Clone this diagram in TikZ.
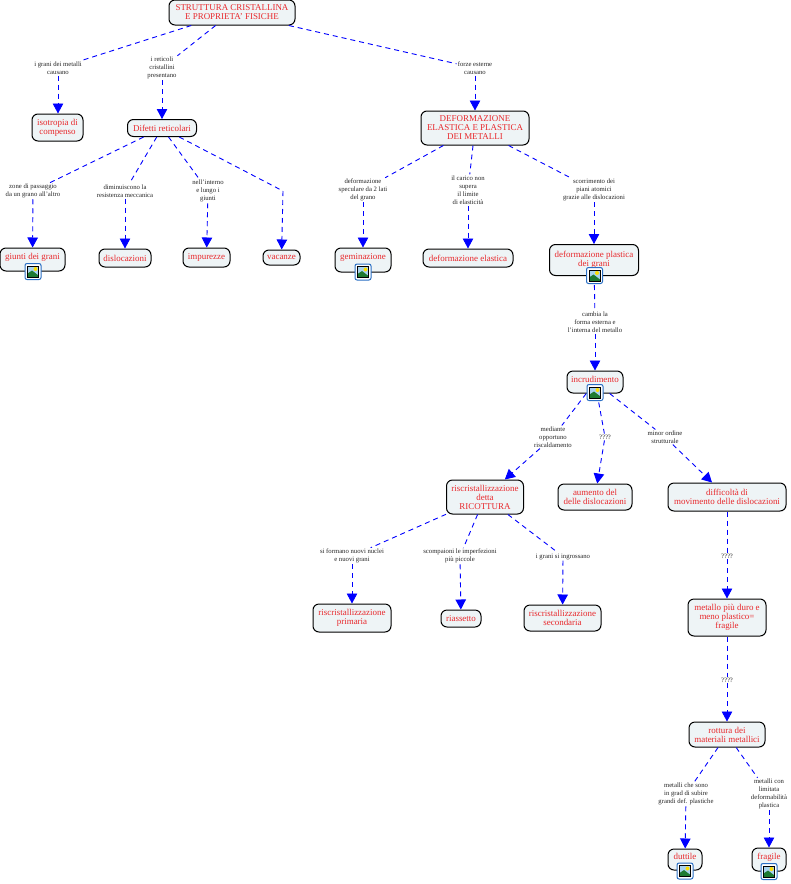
\documentclass[tikz,border=0pt]{standalone}
\usepackage{fontspec}
\setmainfont{Liberation Serif}
\usetikzlibrary{arrows.meta}
\definecolor{boxfill}{HTML}{EEF4F6}
\definecolor{conceptred}{HTML}{E8282C}
\definecolor{iconblue}{HTML}{2A6FC4}
\definecolor{iconsky}{HTML}{A9D3EE}
\definecolor{icongreen}{HTML}{1E7A32}
\begin{document}
\begin{tikzpicture}[x=1pt, y=-1pt, >={Stealth[length=10pt,width=10.5pt,inset=0pt]},
  concept/.style={draw=black, line width=1pt, fill=boxfill, rounded corners=6pt, text=conceptred,
    font=\fontsize{8.95}{9}\selectfont, align=center, inner sep=0pt},
  iconconcept/.style={concept, text depth=6pt},
  linklabel/.style={text=black!85, font=\fontsize{6.7}{8}\selectfont, align=center, inner sep=1pt},
  linkline/.style={draw=blue, line width=0.9pt, dash pattern=on 5pt off 4pt},
  linkarrow/.style={linkline, ->},
  imgicon/.pic={
    \draw[iconblue, line width=1pt, fill=white, rounded corners=2pt] (-8,-8) rectangle (8,8);
    \fill[iconsky] (-5.5,-5.5) rectangle (5.5,5.5);
    \fill[yellow!80!orange] (2.5,-2.5) circle (2);
    \fill[icongreen] (-5.5,5.5) -- (-5.5,2) -- (-1,-1) -- (5.5,4) -- (5.5,5.5) -- cycle;
    \draw[black, line width=0.5pt] (-5.5,-5.5) rectangle (5.5,5.5);
  }]
  \useasboundingbox (0,0) rectangle (791,884);

  \node[concept, minimum width=126, minimum height=25] (struttura) at (232,12.5) {STRUTTURA CRISTALLINA\\E PROPRIETA' FISICHE};
  \node[concept, minimum width=51, minimum height=27] (isotropia) at (57.5,127.5) {isotropia di\\compenso};
  \node[concept, minimum width=69, minimum height=17] (difetti) at (162,128) {Difetti reticolari};
  \node[iconconcept, minimum width=65, minimum height=23] (giunti) at (32.5,259.5) {giunti dei grani};
  \node[concept, minimum width=52, minimum height=18] (dislocazioni) at (125,258) {dislocazioni};
  \node[concept, minimum width=47, minimum height=19] (impurezze) at (206.5,257.5) {impurezze};
  \node[concept, minimum width=37, minimum height=15] (vacanze) at (281.5,257.5) {vacanze};
  \node[concept, minimum width=108, minimum height=34] (deformazione) at (475,128) {DEFORMAZIONE\\ELASTICA E PLASTICA\\DEI METALLI};
  \node[iconconcept, minimum width=56, minimum height=24] (geminazione) at (363,260) {geminazione};
  \node[concept, minimum width=90, minimum height=18] (elastica) at (468,258) {deformazione elastica};
  \node[concept, minimum width=89, minimum height=31] (plastica) at (594,260) {deformazione plastica\\dei grani};
  \node[iconconcept, minimum width=56, minimum height=22] (incrudimento) at (595,382) {incrudimento};
  \node[concept, minimum width=77, minimum height=34] (ricottura) at (485,497) {riscristallizzazione\\detta\\RICOTTURA};
  \node[concept, minimum width=74, minimum height=26] (aumento) at (595,497) {aumento del\\delle dislocazioni};
  \node[concept, minimum width=118, minimum height=28] (difficolta) at (727,497) {difficoltà di\\movimento delle dislocazioni};
  \node[concept, minimum width=78, minimum height=28] (primaria) at (352,618) {riscristallizzazione\\primaria};
  \node[concept, minimum width=40, minimum height=17] (riassetto) at (461,618.5) {riassetto};
  \node[concept, minimum width=77, minimum height=26] (secondaria) at (562.5,618) {riscristallizzazione\\secondaria};
  \node[concept, minimum width=78, minimum height=37] (metallo) at (727,617.5) {metallo più duro e\\meno plastico=\\fragile};
  \node[concept, minimum width=76, minimum height=25] (rottura) at (727,734.5) {rottura dei\\materiali metallici};
  \node[iconconcept, minimum width=34, minimum height=21] (duttile) at (685,859.5) {duttile};
  \node[iconconcept, minimum width=34, minimum height=23] (fragile) at (769,859.5) {fragile};

  \node[linklabel] (grani) at (58,68) {i grani dei metalli\\causano};
  \node[linklabel] (reticoli) at (162,68) {i reticoli\\cristallini\\presentano};
  \node[linklabel] (forze) at (475,68) {forze esterne\\causano};
  \node[linklabel] (zone) at (33,191) {zone di passaggio\\da un grano all'altro};
  \node[linklabel] (diminuiscono) at (125,191) {diminuiscono la\\resistenza meccanica};
  \node[linklabel] (interno) at (208,191) {nell'interno\\e lungo i\\giunti};
  \coordinate (vuoto) at (283,191);
  \node[linklabel] (speculare) at (363,190) {deformazione\\speculare da 2 lati\\del grano};
  \node[linklabel] (carico) at (468,190) {il carico non\\supera\\il limite\\di elasticità};
  \node[linklabel] (scorrimento) at (594,190) {scorrimento dei\\piani atomici\\grazie alle dislocazioni};
  \node[linklabel] (cambia) at (595,322) {cambia la\\forma esterna e\\l'interna del metallo};
  \node[linklabel] (mediante) at (553,437) {mediante\\opportuno\\riscaldamento};
  \node[linklabel] (ignotoa) at (605,437) {????};
  \node[linklabel] (minor) at (665,437) {minor ordine\\strutturale};
  \node[linklabel] (nuclei) at (352,556) {si formano nuovi nuclei\\e nuovi grani};
  \node[linklabel] (scompaiono) at (460,556) {scompaioni le imperfezioni\\più piccole};
  \node[linklabel] (ingrossano) at (563,556.5) {i grani si ingrossano};
  \node[linklabel] (ignotob) at (727,556) {????};
  \node[linklabel] (ignotoc) at (727,680) {????};
  \node[linklabel] (sono) at (686,794) {metalli che sono\\in grad di subire\\grandi def. plastiche};
  \node[linklabel] (limitata) at (769,794) {metalli con\\limitata\\deformabilità\\plastica};

  \draw[linkline] (struttura) -- (grani);
  \draw[linkline] (struttura) -- (reticoli);
  \draw[linkline] (struttura) -- (forze);
  \draw[linkarrow] (grani) -- (grani |- isotropia.north);
  \draw[linkarrow] (reticoli) -- (difetti);
  \draw[linkarrow] (forze) -- (deformazione);

  \draw[linkline] (difetti) -- (zone);
  \draw[linkline] (difetti) -- (diminuiscono);
  \draw[linkline] (difetti) -- (interno);
  \draw[linkline] (difetti) -- (vuoto);
  \draw[linkarrow] (zone) -- (giunti);
  \draw[linkarrow] (diminuiscono) -- (dislocazioni);
  \draw[linkarrow] (interno) -- (impurezze);
  \draw[linkarrow] (vuoto) -- (vacanze);

  \draw[linkline] (deformazione) -- (speculare);
  \draw[linkline] (deformazione) -- (carico);
  \draw[linkline] (deformazione) -- (scorrimento);
  \draw[linkarrow] (speculare) -- (geminazione);
  \draw[linkarrow] (carico) -- (elastica);
  \draw[linkarrow] (scorrimento) -- (plastica);

  \draw[linkline] (plastica) -- (cambia);
  \draw[linkarrow] (cambia) -- (incrudimento);
  \draw[linkline] (incrudimento) -- (mediante);
  \draw[linkline] (incrudimento) -- (ignotoa);
  \draw[linkline] (incrudimento) -- (minor);
  \draw[linkarrow] (mediante) -- (ricottura);
  \draw[linkarrow] (ignotoa) -- (aumento);
  \draw[linkarrow] (minor) -- (difficolta);

  \draw[linkline] (ricottura) -- (nuclei);
  \draw[linkline] (ricottura) -- (scompaiono);
  \draw[linkline] (ricottura) -- (ingrossano);
  \draw[linkarrow] (nuclei) -- (primaria);
  \draw[linkarrow] (scompaiono) -- (riassetto);
  \draw[linkarrow] (ingrossano) -- (secondaria);

  \draw[linkline] (difficolta) -- (ignotob);
  \draw[linkarrow] (ignotob) -- (metallo);
  \draw[linkline] (metallo) -- (ignotoc);
  \draw[linkarrow] (ignotoc) -- (rottura);
  \draw[linkline] (rottura) -- (sono);
  \draw[linkline] (rottura) -- (limitata);
  \draw[linkarrow] (sono) -- (duttile);
  \draw[linkarrow] (limitata) -- (fragile);

  \pic at (33,271.5) {imgicon};
  \pic at (363,272) {imgicon};
  \pic at (594.5,275.5) {imgicon};
  \pic at (595,392.5) {imgicon};
  \pic at (685,871) {imgicon};
  \pic at (769,871.5) {imgicon};
\end{tikzpicture}
\end{document}
